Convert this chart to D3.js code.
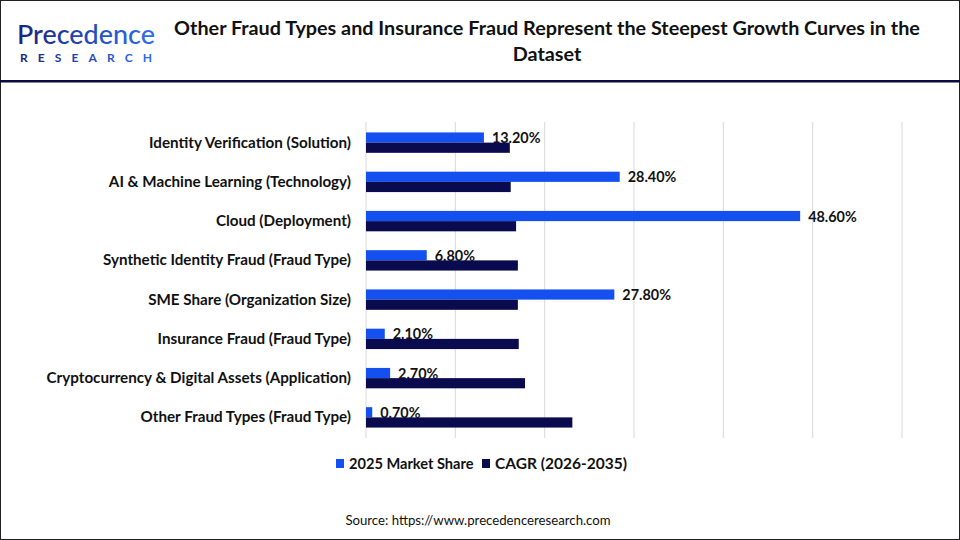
<!DOCTYPE html>
<html><head><meta charset="utf-8">
<script src="https://cdn.jsdelivr.net/npm/d3@7"></script>
<style>
html,body{margin:0;padding:0;background:#fff;}
svg{display:block;}
text{font-family:Lato,"Open Sans",sans-serif;}
</style></head>
<body>
<svg id="chart" width="960" height="540"></svg>
<script>
const categories = [
  "Identity Verification (Solution)",
  "AI & Machine Learning (Technology)",
  "Cloud (Deployment)",
  "Synthetic Identity Fraud (Fraud Type)",
  "SME Share (Organization Size)",
  "Insurance Fraud (Fraud Type)",
  "Cryptocurrency & Digital Assets (Application)",
  "Other Fraud Types (Fraud Type)"
];
const marketShare = [13.2, 28.4, 48.6, 6.8, 27.8, 2.1, 2.7, 0.7];
const cagr = [16.1, 16.2, 16.8, 17.0, 17.0, 17.1, 17.8, 23.1];
const seriesNames = ["2025 Market Share", "CAGR (2026-2035)"];
const xTicks = [0, 10, 20, 30, 40, 50, 60];
const titleLines = ["Other Fraud Types and Insurance Fraud Represent the Steepest Growth Curves in the", "Dataset"];
const sourceText = "Source: https://www.precedenceresearch.com";

const colors = ["#1450f0", "#0a0b4f"];
const svg = d3.select("#chart");

// border
svg.append("rect").attr("x",0.5).attr("y",0.5).attr("width",959).attr("height",539)
  .attr("fill","none").attr("stroke","#222").attr("stroke-width",1);
// header divider
svg.append("rect").attr("x",0).attr("y",80).attr("width",960).attr("height",2.5).attr("fill","#0a0b3f");

// logo
const defs = svg.append("defs");
const grad = defs.append("linearGradient").attr("id","lg").attr("x1","0").attr("x2","1").attr("y1","0").attr("y2","0");
grad.append("stop").attr("offset","0%").attr("stop-color","#1a237e");
grad.append("stop").attr("offset","100%").attr("stop-color","#2f6df2");
svg.append("text").attr("x",17).attr("y",44).attr("font-size",26).attr("font-weight",500)
  .attr("fill","url(#lg)").attr("textLength",138).attr("lengthAdjust","spacingAndGlyphs").text("Precedence");
svg.append("text").attr("x",20).attr("y",61.5).attr("font-size",12).attr("font-weight",700)
  .attr("fill","url(#lg)").attr("textLength",132).attr("lengthAdjust","spacing").text("RESEARCH");

// title
svg.append("g").selectAll("text").data(titleLines).join("text")
  .attr("x",547).attr("y",(d,i)=>35+i*26).attr("text-anchor","middle")
  .attr("font-size",19.8).attr("font-weight",700).attr("fill","#111").text(d=>d);

// scales
const x = d3.scaleLinear().domain([0,60]).range([366,902]);
const y = d3.scaleBand().domain(categories).range([123,437]).padding(0);
const barH = 10.2;

// gridlines
svg.append("g").selectAll("line").data(xTicks).join("line")
  .attr("x1",d=>x(d)).attr("x2",d=>x(d)).attr("y1",122).attr("y2",438)
  .attr("stroke","#d9d9d9").attr("stroke-width",1);

// category labels via axis
const yAxis = svg.append("g").attr("transform","translate(366,0)")
  .call(d3.axisLeft(y).tickSize(0).tickPadding(15));
yAxis.select(".domain").remove();
yAxis.selectAll("text").attr("font-family","Lato, sans-serif").attr("font-size",15.2)
  .attr("font-weight",700).attr("fill","#111");

const mid = d => y(d) + y.bandwidth()/2;

// blue bars
svg.append("g").selectAll("rect").data(categories).join("rect")
  .attr("x",x(0)).attr("y",d=>mid(d)-barH)
  .attr("width",(d,i)=>x(marketShare[i])-x(0)).attr("height",barH).attr("fill",colors[0]);

// value labels
svg.append("g").selectAll("text").data(categories).join("text")
  .attr("x",(d,i)=>x(marketShare[i])+8).attr("y",d=>mid(d)+0.5)
  .attr("font-size",14.4).attr("font-weight",700).attr("fill","#111")
  .text((d,i)=>marketShare[i].toFixed(2)+"%");

// dark bars
svg.append("g").selectAll("rect").data(categories).join("rect")
  .attr("x",x(0)).attr("y",d=>mid(d))
  .attr("width",(d,i)=>x(cagr[i])-x(0)).attr("height",barH).attr("fill",colors[1]);

// legend
const leg = svg.append("g");
const legX = [336, 482];
const legFont = [14.6, 15.5];
seriesNames.forEach((n,i)=>{
  leg.append("rect").attr("x",legX[i]).attr("y",459).attr("width",8).attr("height",9).attr("fill",colors[i]);
  leg.append("text").attr("x",legX[i]+13).attr("y",469).attr("font-size",legFont[i]).attr("font-weight",700)
    .attr("fill","#111").text(n);
});

// source
svg.append("text").attr("x",478).attr("y",525).attr("text-anchor","middle").attr("font-size",13.2)
  .attr("fill","#111").text(sourceText);
</script>
</body></html>
